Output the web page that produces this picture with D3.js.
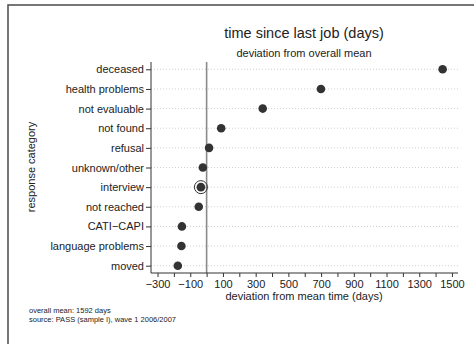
<!DOCTYPE html>
<html><head><meta charset="utf-8">
<script src="https://cdn.jsdelivr.net/npm/d3@7"></script>
<style>body{margin:0;background:#fff}svg{display:block}text{font-family:"Liberation Sans",Arial,sans-serif;fill:#222}</style>
</head><body><svg id="c" width="474" height="344"></svg>
<script>
const categories = ["deceased","health problems","not evaluable","not found","refusal","unknown/other","interview","not reached","CATI\u2212CAPI","language problems","moved"];
const deviations = [1443, 699, 343, 89, 15, -23, -35, -48, -151, -154, -176];
const highlighted = ["interview"];
const xTickValues = d3.range(-300, 1501, 100);
const xLabelValues = [-300,-100,100,300,500,700,900,1100,1300,1500];
const notes = ["overall mean: 1592 days","source: PASS (sample I), wave 1 2006/2007"];

const svg = d3.select("#c");
// frame
svg.append("rect").attr("x",8).attr("y",5).attr("width",480).attr("height",350)
  .attr("fill","#fff").attr("stroke","#555").attr("stroke-width",1.6);

const x = d3.scaleLinear().domain([-340, 1537]).range([151, 458]);
const y = d3.scalePoint().domain(categories).range([69.3, 265.7]);
const plotTop = 62, plotBottom = 273;

// gridlines
svg.append("g").selectAll("line").data(categories).join("line")
  .attr("x1",151).attr("x2",458).attr("y1",d=>y(d)).attr("y2",d=>y(d))
  .attr("stroke","#c4c4c4").attr("stroke-width",0.8).attr("stroke-dasharray","1,2");

// zero line
svg.append("line").attr("x1",x(0)).attr("x2",x(0)).attr("y1",plotTop).attr("y2",plotBottom)
  .attr("stroke","#8a8a8a").attr("stroke-width",1.6);

// y axis
const ya = svg.append("g").attr("transform","translate(151,0)")
  .call(d3.axisLeft(y).tickSize(5).tickPadding(2));
ya.select(".domain").attr("d",`M0,${plotTop}V${plotBottom}`).attr("stroke","#333");
ya.selectAll(".tick line").attr("stroke","#333");
ya.selectAll("text").attr("font-size",11).attr("font-family","Liberation Sans, Arial").attr("fill","#222");

// x axis
const xa = svg.append("g").attr("transform",`translate(0,${plotBottom})`)
  .call(d3.axisBottom(x).tickValues(xTickValues).tickSize(4).tickPadding(3)
    .tickFormat(d=> xLabelValues.includes(d) ? d3.format("")(d).replace("-","\u2212") : ""));
xa.select(".domain").attr("d","M151,0H458").attr("stroke","#333");
xa.selectAll(".tick line").attr("stroke","#333");
xa.selectAll("text").attr("font-size",11).attr("font-family","Liberation Sans, Arial").attr("fill","#222");

// points
svg.append("g").selectAll("circle.h").data(categories.filter(c=>highlighted.includes(c))).join("circle")
  .attr("cx",d=>x(deviations[categories.indexOf(d)])).attr("cy",d=>y(d)).attr("r",6.5)
  .attr("fill","none").attr("stroke","#333").attr("stroke-width",1);
svg.append("g").selectAll("circle.p").data(categories).join("circle")
  .attr("cx",(d,i)=>x(deviations[i])).attr("cy",d=>y(d)).attr("r",4.3)
  .attr("fill","#333");

// titles
svg.append("text").attr("x",304).attr("y",38).attr("text-anchor","middle").attr("font-size",14.5).attr("fill","#222").text("time since last job (days)");
svg.append("text").attr("x",304).attr("y",57).attr("text-anchor","middle").attr("font-size",11).attr("fill","#222").text("deviation from overall mean");
svg.append("text").attr("x",304).attr("y",300).attr("text-anchor","middle").attr("font-size",11).attr("fill","#222").text("deviation from mean time (days)");
svg.append("text").attr("transform","translate(35,167) rotate(-90)").attr("text-anchor","middle").attr("font-size",11).attr("fill","#222").text("response category");
svg.append("g").selectAll("text").data(notes).join("text")
  .attr("x",29).attr("y",(d,i)=>313+i*9).attr("font-size",7.5).attr("fill","#222").text(d=>d);
</script></body></html>
